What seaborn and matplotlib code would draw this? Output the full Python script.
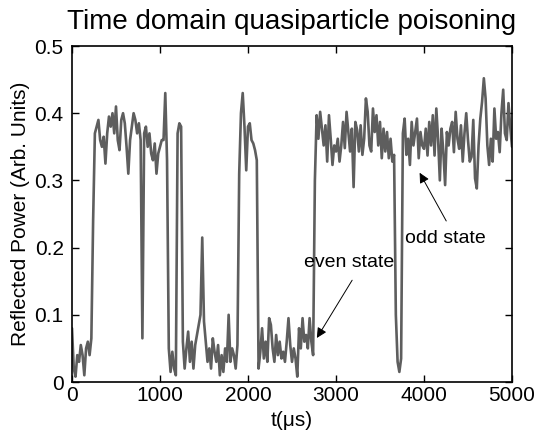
import numpy as np
import pandas as pd
import matplotlib
matplotlib.use("Agg")
import matplotlib.pyplot as plt
import seaborn as sns

# sample times (us), one reading every 20 us
time_us = np.arange(0, 5001, 20)

# reflected power, rows of 10 samples (200 us each)
power = [
    0.080, 0.020, 0.008, 0.040, 0.030, 0.055, 0.040, 0.010, 0.050, 0.060,
    0.040, 0.065, 0.240, 0.370, 0.380, 0.390, 0.360, 0.350, 0.365, 0.325,
    0.370, 0.395, 0.380, 0.400, 0.370, 0.410, 0.360, 0.345, 0.390, 0.400,
    0.385, 0.350, 0.310, 0.360, 0.380, 0.400, 0.390, 0.370, 0.385, 0.360,
    0.065, 0.370, 0.380, 0.350, 0.370, 0.340, 0.330, 0.355, 0.310, 0.340,
    0.350, 0.360, 0.360, 0.430, 0.330, 0.050, 0.015, 0.045, 0.020, 0.010,
    0.370, 0.385, 0.380, 0.060, 0.020, 0.050, 0.075, 0.030, 0.060, 0.020,
    0.055, 0.070, 0.085, 0.100, 0.215, 0.090, 0.060, 0.030, 0.050, 0.020,
    0.065, 0.045, 0.030, 0.055, 0.010, 0.040, 0.015, 0.050, 0.030, 0.100,
    0.030, 0.050, 0.040, 0.020, 0.055, 0.310, 0.400, 0.430, 0.380, 0.315,
    0.380, 0.385, 0.360, 0.355, 0.345, 0.330, 0.020, 0.045, 0.080, 0.035,
    0.060, 0.030, 0.095, 0.085, 0.050, 0.030, 0.070, 0.040, 0.060, 0.035,
    0.045, 0.030, 0.060, 0.095, 0.055, 0.030, 0.050, 0.035, 0.008, 0.080,
    0.050, 0.095, 0.060, 0.070, 0.050, 0.095, 0.060, 0.040, 0.300, 0.397,
    0.362, 0.402, 0.377, 0.352, 0.382, 0.328, 0.397, 0.362, 0.323, 0.352,
    0.343, 0.362, 0.328, 0.352, 0.387, 0.348, 0.402, 0.372, 0.343, 0.377,
    0.290, 0.387, 0.375, 0.343, 0.382, 0.338, 0.362, 0.422, 0.402, 0.352,
    0.343, 0.407, 0.372, 0.397, 0.352, 0.387, 0.333, 0.377, 0.343, 0.372,
    0.333, 0.362, 0.328, 0.338, 0.100, 0.030, 0.015, 0.035, 0.370, 0.392,
    0.338, 0.362, 0.323, 0.387, 0.352, 0.372, 0.392, 0.333, 0.372, 0.352,
    0.347, 0.377, 0.337, 0.387, 0.352, 0.397, 0.337, 0.407, 0.362, 0.300,
    0.377, 0.342, 0.293, 0.372, 0.352, 0.377, 0.387, 0.342, 0.402, 0.362,
    0.347, 0.382, 0.328, 0.370, 0.400, 0.360, 0.328, 0.335, 0.390, 0.303,
    0.288, 0.352, 0.392, 0.417, 0.452, 0.422, 0.352, 0.323, 0.362, 0.328,
    0.407, 0.362, 0.372, 0.342, 0.400, 0.435, 0.370, 0.360, 0.415, 0.380,
    0.350,
]

x_ticks = [0, 1000, 2000, 3000, 4000, 5000]
y_ticks = [0, 0.1, 0.2, 0.3, 0.4, 0.5]
y_tick_labels = ["0", "0.1", "0.2", "0.3", "0.4", "0.5"]

sns.set_style("ticks")
plt.rcParams["font.family"] = ["Liberation Sans", "DejaVu Sans"]
plt.rcParams["text.color"] = "black"
plt.rcParams["axes.labelcolor"] = "black"

df = pd.DataFrame({"t": time_us, "power": power})

fig = plt.figure(figsize=(5.41, 4.37), dpi=100)
ax = fig.add_axes([72 / 541, 55 / 437, 440 / 541, 336 / 437])

sns.lineplot(data=df, x="t", y="power", color="#5e5e5e", linewidth=1.9, ax=ax)

ax.set_xlim(0, 5000)
ax.set_ylim(0, 0.5)
ax.set_xticks(x_ticks)
ax.set_yticks(y_ticks)
ax.set_yticklabels(y_tick_labels)
ax.tick_params(direction="in", top=True, right=True, length=5, width=1,
               labelsize=15, colors="black", pad=3)
ax.tick_params(axis="y", pad=6)
for s in ax.spines.values():
    s.set_linewidth(1.2)
    s.set_color("black")

ax.set_xlabel("t(μs)", fontsize=15, labelpad=4)
ax.set_ylabel("Reflected Power (Arb. Units)", fontsize=15, labelpad=3)
ax.set_title("Time domain quasiparticle poisoning", fontsize=20, pad=12,
             color="black")

# state labels with arrows
ax.text(3146, 0.178, "even state", fontsize=14, ha="center", va="center")
ax.annotate("", xy=(2766, 0.062), xytext=(3200, 0.155),
            arrowprops=dict(arrowstyle="-|>", color="black", lw=0.7,
                            mutation_scale=15))
ax.text(4245, 0.214, "odd state", fontsize=14, ha="center", va="center")
ax.annotate("", xy=(3935, 0.315), xytext=(4268, 0.236),
            arrowprops=dict(arrowstyle="-|>", color="black", lw=0.7,
                            mutation_scale=15))

fig.savefig("out.png", dpi=100)
